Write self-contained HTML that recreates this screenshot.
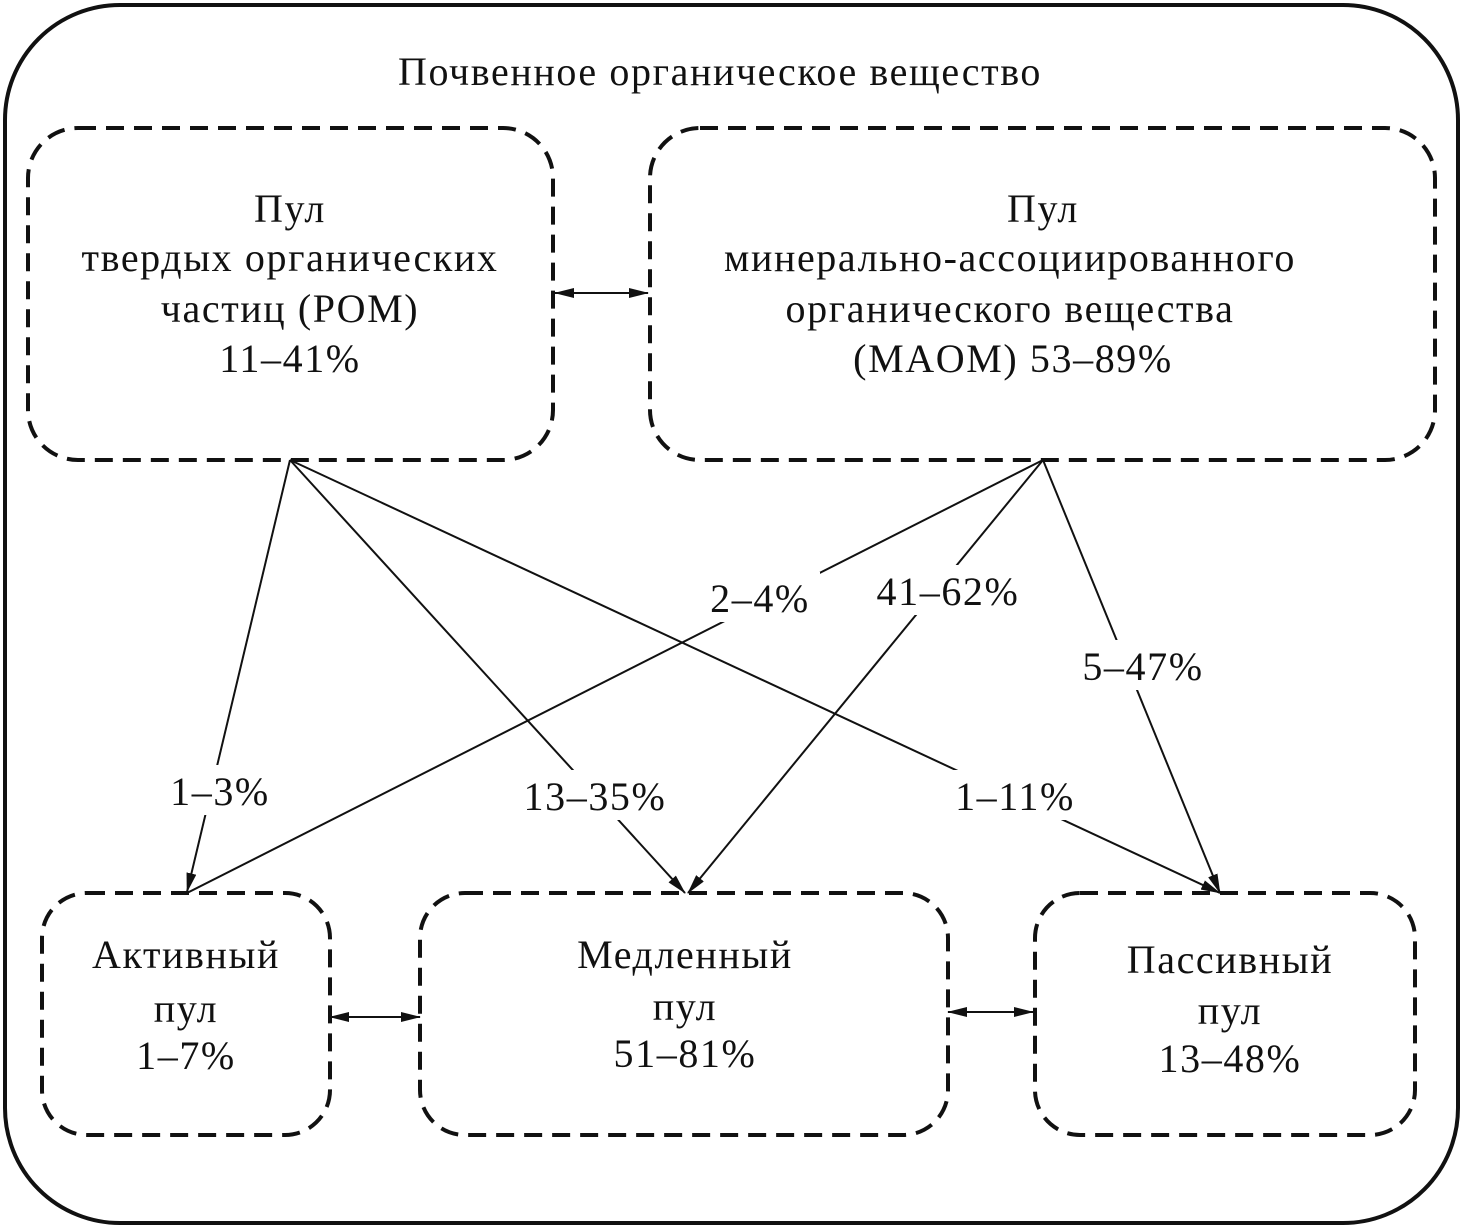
<!DOCTYPE html>
<html><head><meta charset="utf-8"><style>
html,body{margin:0;padding:0;background:#fff}
svg{display:block}
text{font-family:"Liberation Serif","DejaVu Serif",serif;font-size:40px;letter-spacing:1.6px;fill:#111;text-anchor:middle}
</style></head><body>
<svg width="1463" height="1230" viewBox="0 0 1463 1230" xmlns="http://www.w3.org/2000/svg">
<defs>
<marker id="a" viewBox="0 0 20 10" refX="19" refY="5" markerWidth="20" markerHeight="10" markerUnits="userSpaceOnUse" orient="auto-start-reverse">
<path d="M0,0 L20,5 L0,10 Z" fill="#111"/></marker>
</defs>
<rect x="5" y="5" width="1453" height="1218" rx="115" fill="none" stroke="#111" stroke-width="4"/>
<text x="720" y="85">Почвенное органическое вещество</text>
<g fill="none" stroke="#111" stroke-width="4" stroke-dasharray="18 10">
<rect x="28" y="128" width="525" height="332" rx="50"/>
<rect x="650" y="128" width="785" height="332" rx="50"/>
<rect x="42" y="893" width="288" height="242" rx="45"/>
<rect x="420" y="893" width="528" height="242" rx="45"/>
<rect x="1035" y="893" width="380" height="242" rx="45"/>
</g>
<g stroke="#111" stroke-width="2" fill="none">
<line x1="290" y1="460" x2="187" y2="892" marker-end="url(#a)"/>
<line x1="290" y1="460" x2="685" y2="893" marker-end="url(#a)"/>
<line x1="290" y1="460" x2="1220" y2="893" marker-end="url(#a)"/>
<line x1="1043" y1="460" x2="187" y2="893"/>
<line x1="1043" y1="460" x2="688" y2="893" marker-end="url(#a)"/>
<line x1="1043" y1="460" x2="1220" y2="893" marker-end="url(#a)"/>
<line x1="555" y1="293" x2="648" y2="293" marker-start="url(#a)" marker-end="url(#a)"/>
<line x1="330" y1="1017" x2="420" y2="1017" marker-start="url(#a)" marker-end="url(#a)"/>
<line x1="948" y1="1012" x2="1033" y2="1012" marker-start="url(#a)" marker-end="url(#a)"/>
</g>
<g fill="#fff">
<rect x="160" y="765" width="120" height="50"/>
<rect x="515" y="770" width="160" height="50"/>
<rect x="945" y="770" width="140" height="50"/>
<rect x="700" y="572" width="120" height="50"/>
<rect x="868" y="565" width="160" height="50"/>
<rect x="1073" y="640" width="140" height="50"/>
</g>
<text x="220" y="805">1–3%</text>
<text x="595" y="810">13–35%</text>
<text x="1015" y="810">1–11%</text>
<text x="760" y="612">2–4%</text>
<text x="948" y="605">41–62%</text>
<text x="1143" y="680">5–47%</text>
<text x="290" y="222">Пул</text>
<text x="290" y="271">твердых органических</text>
<text x="290" y="322">частиц (POM)</text>
<text x="290" y="372">11–41%</text>
<text x="1043" y="222">Пул</text>
<text x="1010" y="271">минерально-ассоциированного</text>
<text x="1010" y="322">органического вещества</text>
<text x="1013" y="372">(MAOM) 53–89%</text>
<text x="186" y="968">Активный</text>
<text x="186" y="1022">пул</text>
<text x="186" y="1069">1–7%</text>
<text x="685" y="968">Медленный</text>
<text x="685" y="1020">пул</text>
<text x="685" y="1067">51–81%</text>
<text x="1230" y="973">Пассивный</text>
<text x="1230" y="1024">пул</text>
<text x="1230" y="1072">13–48%</text>
</svg>
</body></html>
